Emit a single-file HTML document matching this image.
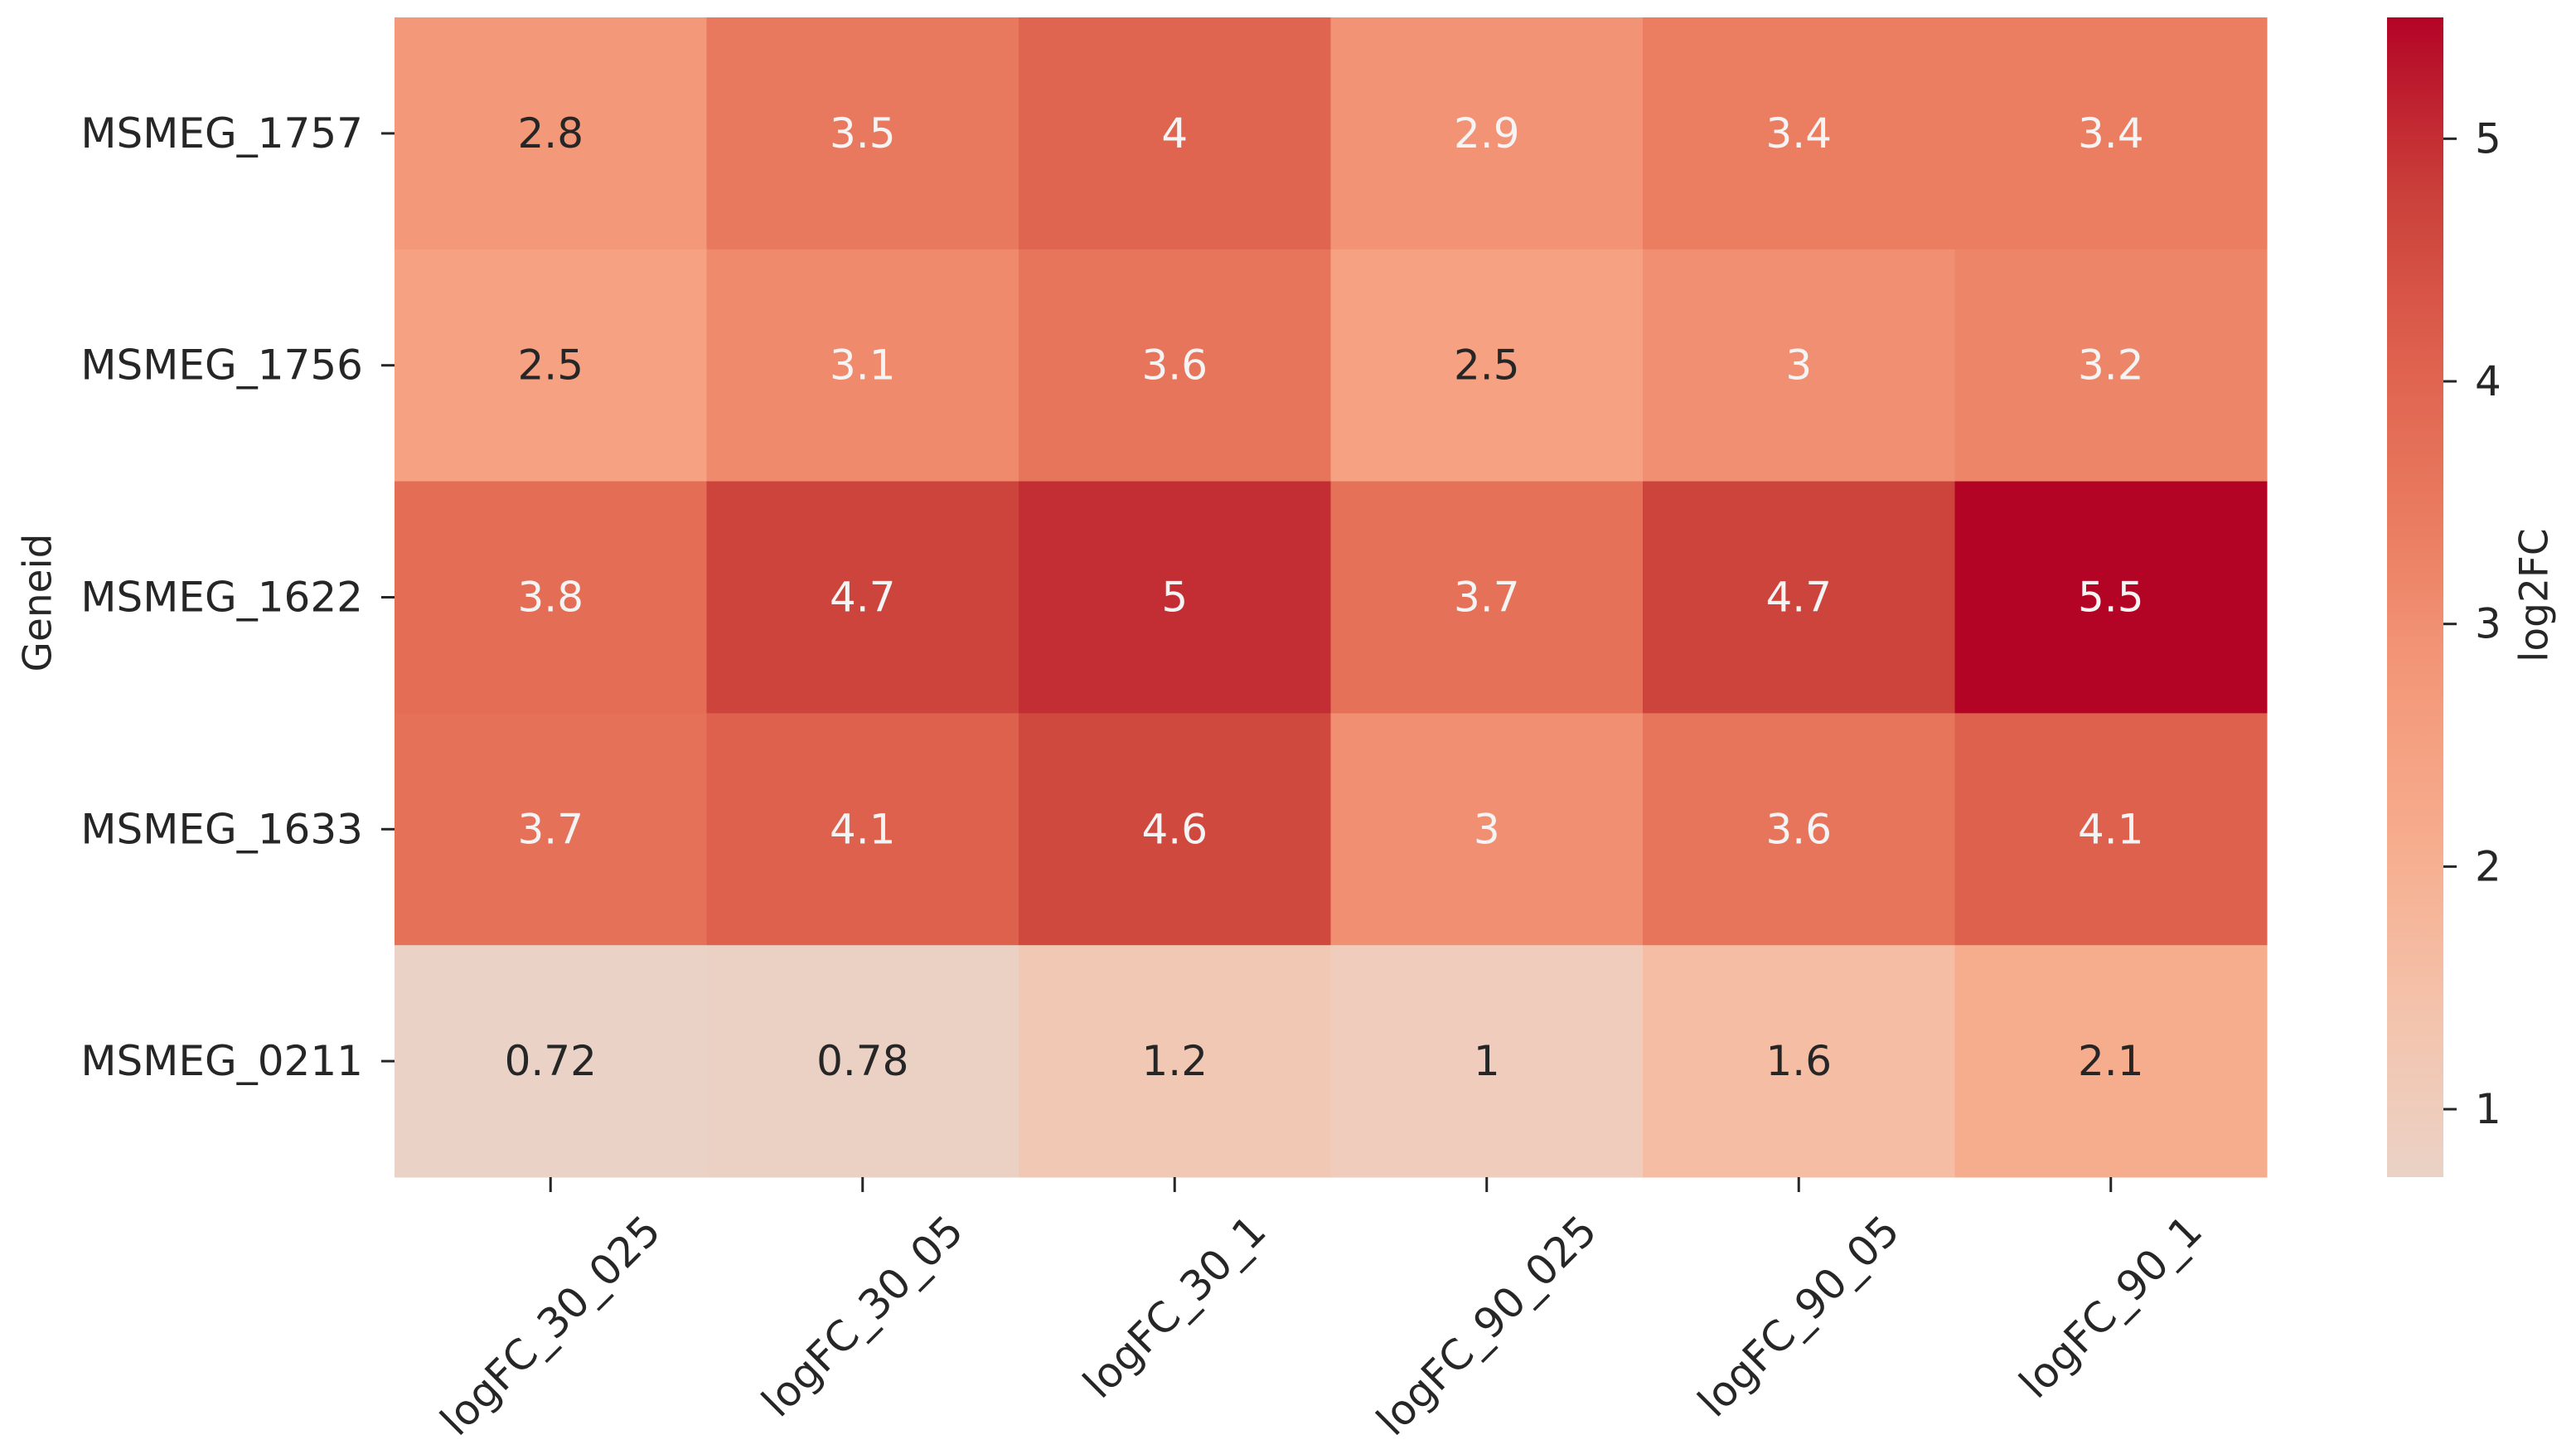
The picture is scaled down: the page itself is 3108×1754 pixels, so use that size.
<!DOCTYPE html>
<html><head><meta charset="utf-8"><style>
html,body{margin:0;padding:0;background:#fff;}
svg{display:block;font-family:"DejaVu Sans","Liberation Sans",sans-serif;}
</style></head><body>
<svg id="chart" width="3108" height="1754" viewBox="0 0 3108 1754" xmlns="http://www.w3.org/2000/svg">
<g id="cells"></g>
<g id="xaxis"></g>
<g id="yaxis"></g>
<defs><linearGradient id="cbgrad" x1="0" y1="1" x2="0" y2="0"></linearGradient></defs>
<g id="cbar"></g>
<text x="0" y="0" font-size="47" fill="#262626" text-anchor="middle" dominant-baseline="central" transform="translate(46,727) rotate(-90)">Geneid</text>
<text x="0" y="0" font-size="47" fill="#262626" text-anchor="middle" dominant-baseline="central" transform="translate(3058,718) rotate(-90)">log2FC</text>
</svg>
<script>
const rows = ["MSMEG_1757","MSMEG_1756","MSMEG_1622","MSMEG_1633","MSMEG_0211"];
const cols = ["logFC_30_025","logFC_30_05","logFC_30_1","logFC_90_025","logFC_90_05","logFC_90_1"];
const row1757 = [2.8,3.5,4,2.9,3.4,3.4];
const row1756 = [2.5,3.1,3.6,2.5,3,3.2];
const row1622 = [3.8,4.7,5,3.7,4.7,5.5];
const row1633 = [3.7,4.1,4.6,3,3.6,4.1];
const row0211 = [0.72,0.78,1.2,1,1.6,2.1];
const cbTicks = [1,2,3,4,5];

const values = [row1757,row1756,row1622,row1633,row0211];
const NS="http://www.w3.org/2000/svg";
const FS=50;
const X0=476,X1=2735,Y0=21,Y1=1420;
const all=values.flat();
const vmin=Math.min(...all), vmax=Math.max(...all);
const cw=(X1-X0)/cols.length, ch=(Y1-Y0)/rows.length;
const xScale=i=>X0+i*cw, yScale=j=>Y0+j*ch;
const stops=[[0.5,[221,221,221]],[0.5625,[234,211,199]],[0.625,[244,196,173]],[0.6875,[246,174,143]],[0.75,[244,154,123]],[0.8125,[234,123,96]],[0.875,[222,96,77]],[0.9375,[201,62,57]],[1,[180,4,38]]];
function cmap(v){let t=0.5+v/(2*vmax);t=Math.max(0.5,Math.min(1,t));
 for(let k=1;k<stops.length;k++){if(t<=stops[k][0]){const a=stops[k-1],b=stops[k];const f=(t-a[0])/(b[0]-a[0]);return a[1].map((c,i)=>Math.round(c+(b[1][i]-c)*f));}}return stops[stops.length-1][1];}
function lum(c){const l=c.map(x=>{x/=255;return x<=0.03928?x/12.92:Math.pow((x+0.055)/1.055,2.4)});return 0.2126*l[0]+0.7152*l[1]+0.0722*l[2];}
const LUM_T=lum(cmap(2.85));
const cells=document.getElementById('cells');
values.forEach((r,j)=>r.forEach((v,i)=>{
 const c=cmap(v);
 const rect=document.createElementNS(NS,'rect');
 
 
 rect.setAttribute('x',xScale(i));rect.setAttribute('y',yScale(j));
 rect.setAttribute('width',cw+0.5);rect.setAttribute('height',ch+0.5);
 rect.setAttribute('fill',`rgb(${c})`);cells.appendChild(rect);
 const t=document.createElementNS(NS,'text');
 
 
 t.setAttribute('x',xScale(i)+cw/2);t.setAttribute('y',yScale(j)+ch/2);
 t.setAttribute('text-anchor','middle');t.setAttribute('dominant-baseline','central');
 t.setAttribute('font-size',FS);t.setAttribute('fill',lum(c)>LUM_T?'#262626':'#f4f4f4');
 t.textContent=String(v);cells.appendChild(t);
}));
const ya=document.getElementById('yaxis');
rows.forEach((r,j)=>{const y=yScale(j)+ch/2;
 const l=document.createElementNS(NS,'line');
 
 
 l.setAttribute('x1',X0-16);l.setAttribute('x2',X0);l.setAttribute('y1',y);l.setAttribute('y2',y);l.setAttribute('stroke','#262626');l.setAttribute('stroke-width','3');ya.appendChild(l);
 const t=document.createElementNS(NS,'text');
 
 
 t.setAttribute('x',X0-38);t.setAttribute('y',y);t.setAttribute('text-anchor','end');t.setAttribute('dominant-baseline','central');t.setAttribute('font-size',FS);t.setAttribute('fill','#262626');t.textContent=r;ya.appendChild(t);});
const xa=document.getElementById('xaxis');
cols.forEach((c,i)=>{const x=xScale(i)+cw/2;
 const l=document.createElementNS(NS,'line');
 
 
 l.setAttribute('x1',x);l.setAttribute('x2',x);l.setAttribute('y1',Y1);l.setAttribute('y2',Y1+18);l.setAttribute('stroke','#262626');l.setAttribute('stroke-width','3');xa.appendChild(l);
 const t=document.createElementNS(NS,'text');
 
 
 t.setAttribute('x',0);t.setAttribute('y',0);t.setAttribute('text-anchor','middle');t.setAttribute('dominant-baseline','central');t.setAttribute('font-size',FS);t.setAttribute('fill','#262626');t.textContent=c;xa.appendChild(t);
 const w=t.getComputedTextLength(), h=FS;
 const bh=(w+h)/Math.SQRT2;
 t.setAttribute('transform',`translate(${x},${Y1+38+bh/2}) rotate(-45)`);});
const CX0=2880,CX1=2948;
const cbY=v=>Y1-(v-vmin)/(vmax-vmin)*(Y1-Y0);
const grad=document.getElementById('cbgrad');
for(let k=0;k<=20;k++){const v=vmin+(vmax-vmin)*k/20;const s=document.createElementNS(NS,'stop');s.setAttribute('offset',k/20);s.setAttribute('stop-color',`rgb(${cmap(v)})`);grad.appendChild(s);}
const cb=document.getElementById('cbar');
const cr=document.createElementNS(NS,'rect');


cr.setAttribute('x',CX0);cr.setAttribute('y',Y0);cr.setAttribute('width',CX1-CX0);cr.setAttribute('height',Y1-Y0);cr.setAttribute('fill','url(#cbgrad)');cb.appendChild(cr);
cbTicks.forEach(v=>{const y=cbY(v);
 const l=document.createElementNS(NS,'line');
 
 
 l.setAttribute('x1',CX1);l.setAttribute('x2',CX1+16);l.setAttribute('y1',y);l.setAttribute('y2',y);l.setAttribute('stroke','#262626');l.setAttribute('stroke-width','3');cb.appendChild(l);
 const t=document.createElementNS(NS,'text');
 
 
 t.setAttribute('x',CX1+38);t.setAttribute('y',y);t.setAttribute('dominant-baseline','central');t.setAttribute('font-size',FS);t.setAttribute('fill','#262626');t.textContent=v;cb.appendChild(t);});
</script>
</body></html>
